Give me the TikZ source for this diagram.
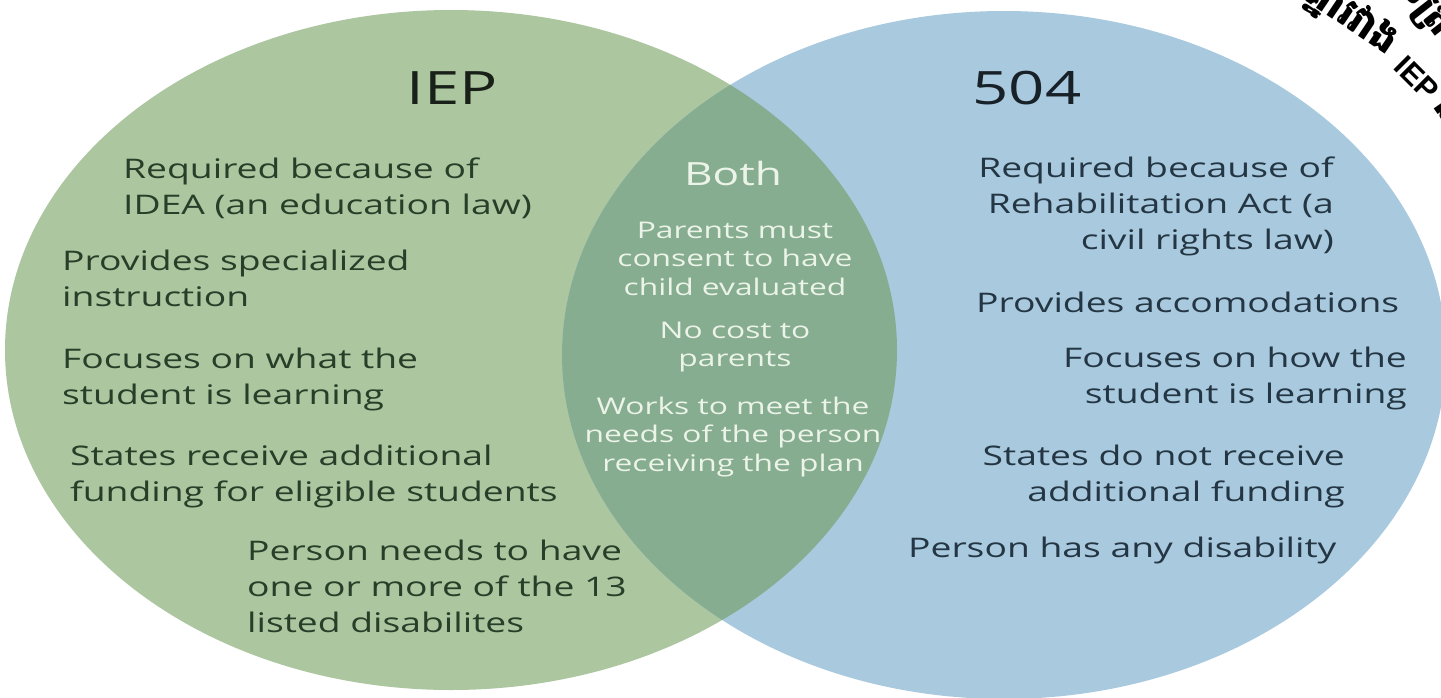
\documentclass[tikz,border=0pt]{standalone}
\usepackage{fontspec}
\setmainfont{Open Sans}[FakeStretch=1.38]
\newfontfamily\khmerfont[Script=Khmer]{Battambang}
\newfontfamily\wmfont{Liberation Sans}
\definecolor{gfill}{RGB}{172,198,160}
\definecolor{bfill}{RGB}{169,202,222}
\definecolor{lfill}{RGB}{134,173,143}
\definecolor{gtext}{RGB}{40,62,40}
\definecolor{btext}{RGB}{36,54,68}
\definecolor{ltext}{RGB}{236,244,233}
\definecolor{headg}{RGB}{24,32,24}
\definecolor{headb}{RGB}{24,32,40}
\newcommand\ltab[1]{\begin{tabular}[t]{@{}l@{}}#1\end{tabular}}
\newcommand\rtab[1]{\begin{tabular}[t]{@{}r@{}}#1\end{tabular}}
\newcommand\ctab[1]{\begin{tabular}[t]{@{}c@{}}#1\end{tabular}}
\begin{document}
\begin{tikzpicture}[x=1pt,y=-1pt,
  body/.style={inner sep=0pt, font=\fontsize{27}{36}\selectfont},
  gtxt/.style={body, text=gtext},
  btxt/.style={body, text=btext},
  ltxt/.style={inner sep=0pt, font=\fontsize{23}{28.5}\selectfont, text=ltext, anchor=base},
  head/.style={inner sep=0pt, font=\fontsize{46}{56}\selectfont, anchor=base},
  khm/.style={inner sep=0pt, font=\khmerfont\bfseries\fontsize{40}{46}\selectfont, text=black},
  wm/.style={inner sep=0pt, font=\wmfont\bfseries\fontsize{30}{36}\selectfont, text=black},
]
\useasboundingbox (0,0) rectangle (1441,697);
\fill[white] (0,0) rectangle (1441,697);
% circles
\fill[gfill] (451,350) ellipse [x radius=446pt, y radius=340pt];
\fill[bfill] (1004,355) ellipse [x radius=442pt, y radius=344pt];
\begin{scope}
  \clip (451,350) ellipse [x radius=446pt, y radius=340pt];
  \fill[lfill] (1004,355) ellipse [x radius=442pt, y radius=344pt];
\end{scope}
% headings
\node[head, text=headg] (iep) at (452,104) {IEP};
\node[head, text=headb] (five) at (1027,104) {504};
% IEP side
\node[gtxt, anchor=base west] (g1) at (123,178) {\ltab{Required because of\\IDEA (an education law)}};
\node[gtxt, anchor=base west] (g2) at (62,270) {\ltab{Provides specialized\\instruction}};
\node[gtxt, anchor=base west] (g3) at (62,368) {\ltab{Focuses on what the\\student is learning}};
\node[gtxt, anchor=base west] (g4) at (70,465) {\ltab{States receive additional\\funding for eligible students}};
\node[gtxt, anchor=base west] (g5) at (247,560) {\ltab{Person needs to have\\one or more of the 13\\listed disabilites}};
% 504 side
\node[btxt, anchor=base east] (b1) at (1334,177) {\rtab{Required because of\\Rehabilitation Act (a\\civil rights law)}};
\node[btxt, anchor=base west] (b2) at (976,312) {Provides accomodations};
\node[btxt, anchor=base east] (b3) at (1407,367) {\rtab{Focuses on how the\\student is learning}};
\node[btxt, anchor=base east] (b4) at (1345,465) {\rtab{States do not receive\\additional funding}};
\node[btxt, anchor=base west] (b5) at (908,557) {Person has any disability};
% both
\node[inner sep=0pt, font=\fontsize{32}{36}\selectfont, text=ltext, anchor=base] (both) at (733,185) {Both};
\node[ltxt] (l1) at (735,238) {\ctab{Parents must\\consent to have\\child evaluated}};
\node[ltxt] (l2) at (735,338) {\ctab{No cost to\\parents}};
\node[ltxt] (l3) at (733,414) {\ctab{Works to meet the\\needs of the person\\receiving the plan}};
% watermark (curved, cut by the page edge)
\node[khm, rotate=-34, anchor=base east] (k1) at (1388,56) {ខុសគ្នារវាង};
\node[wm, rotate=-45, anchor=base west] (k3) at (1392,68) {IEP};
\node[khm, rotate=-55, anchor=base west] (k4) at (1432,106) {និង};
\node[khm, rotate=-52, anchor=base west] (k5) at (1398,-12) {ប័ត្រ};
\end{tikzpicture}
\end{document}
